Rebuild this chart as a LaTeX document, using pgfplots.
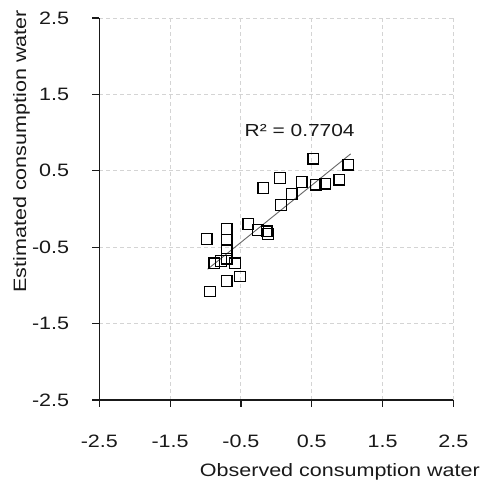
\documentclass[border=0pt]{standalone}
\usepackage{pgfplots}
\pgfplotsset{compat=1.18}
\usepackage{fontspec}
\setmainfont[FakeStretch=1.2]{Liberation Sans}
\definecolor{gridc}{RGB}{212,212,212}
\definecolor{axc}{RGB}{25,25,25}
\definecolor{trend}{RGB}{100,100,100}
\begin{document}
\begin{tikzpicture}
\begin{axis}[
  scale only axis, width=354bp, height=382bp,
  xmin=-2.5, xmax=2.5, ymin=-2.5, ymax=2.5,
  axis x line*=bottom, axis y line*=left,
  axis line style={axc, line width=1.2bp, -},
  xtick={-2.5,-1.5,-0.5,0.5,1.5,2.5},
  ytick={-2.5,-1.5,-0.5,0.5,1.5,2.5},
  tick align=outside, major tick length=7bp,
  tick style={axc, line width=1.2bp},
  grid=major, grid style={gridc, dash pattern=on 4bp off 3bp, line width=0.9bp},
  /pgf/number format/fixed, /pgf/number format/fixed zerofill,
  /pgf/number format/precision=1, /pgf/number format/assume math mode=true,
  tick label style={font=\fontsize{18}{18}\selectfont, text=axc},
  xticklabel style={anchor=north, inner sep=0pt, yshift=-28bp},
  yticklabel style={anchor=east, inner sep=0pt, xshift=-23bp},
  xlabel={Observed consumption water},
  xlabel style={at={(axis description cs:1.0754,-0.2008)}, anchor=base east, inner sep=0pt, font=\fontsize{18}{18}\selectfont, text=axc},
  ylabel={Estimated consumption water},
  ylabel style={at={(axis description cs:-0.2438,1.021)}, anchor=north east, inner sep=0pt, font=\fontsize{18}{18}\selectfont, text=axc},
  clip=false,
]
\addplot[only marks, mark=square, mark size=5.3bp, mark options={draw=black, line width=1.2bp}] coordinates {
  (0.523,0.657) (1.017,0.579) (0.890,0.382) (0.688,0.330) (0.556,0.317)
  (0.359,0.352) (0.218,0.195) (0.052,0.404) (0.066,0.054) (-0.184,0.273)
  (-0.136,-0.293) (-0.120,-0.330) (-0.259,-0.273) (-0.396,-0.195)
  (-0.983,-0.391) (-0.701,-0.264) (-0.701,-0.404) (-0.701,-0.535) (-0.701,-0.650)
  (-0.876,-0.710) (-0.781,-0.680) (-0.583,-0.710) (-0.701,-0.942)
  (-0.513,-0.885) (-0.938,-1.081)
};
\addplot[trend, line width=0.9bp] coordinates {(-0.97,-0.788) (1.05,0.721)};
\node[font=\fontsize{17.5}{17.5}\selectfont, text=axc] at (axis cs:0.33,1.03) {R² = 0.7704};
\coordinate (bbl) at (axis description cs:-0.2805,-0.2199);
\coordinate (btr) at (axis description cs:1.078,1.047);
\end{axis}
\pgfresetboundingbox
\path[use as bounding box] (bbl) rectangle (btr);
\end{tikzpicture}
\end{document}
